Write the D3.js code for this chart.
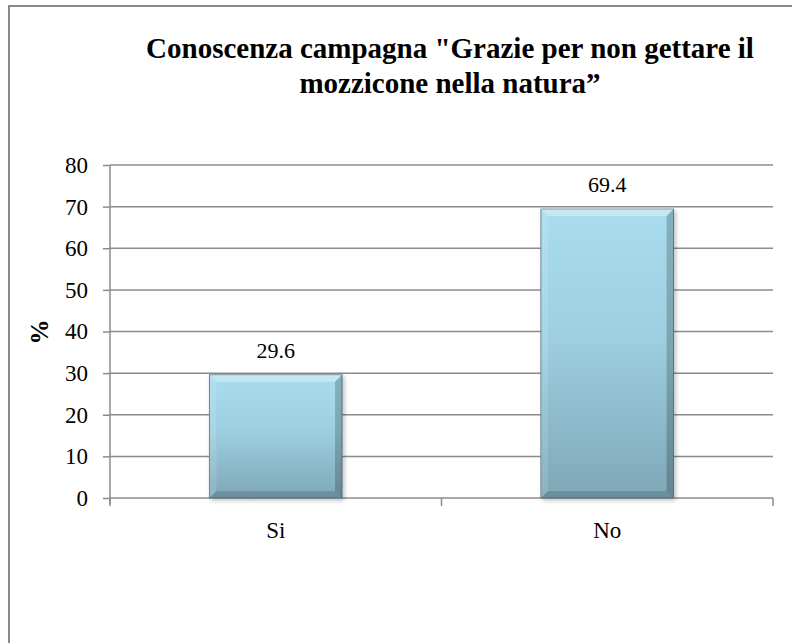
<!DOCTYPE html>
<html>
<head>
<meta charset="utf-8">
<script src="https://cdn.jsdelivr.net/npm/d3@7"></script>
<style>
  body { margin: 0; background: #fff; overflow: hidden; }
  svg text { font-family: "Liberation Serif", Tinos, "Times New Roman", Times, "DejaVu Serif", serif; }
</style>
</head>
<body>
<div id="chart"></div>
<script>
var categories = ["Si", "No"];
var values = [29.6, 69.4];
var yTicks = [0, 10, 20, 30, 40, 50, 60, 70, 80];
var titleLines = ["Conoscenza campagna \"Grazie per non gettare il", "mozzicone nella natura\u201d"];

var width = 792,
    height = 643;

var svg = d3.select("#chart").append("svg")
    .attr("width", width)
    .attr("height", height)
    .style("display", "block");

// outer frame (right and bottom edges fall outside the picture)
svg.append("rect")
    .attr("x", 9).attr("y", 6)
    .attr("width", 820).attr("height", 700)
    .attr("fill", "#fff")
    .attr("stroke", "#8a8a8a")
    .attr("stroke-width", 2);

var plot = {left: 110, right: 773, top: 165, bottom: 498};

var x = d3.scaleBand()
    .domain(categories)
    .range([plot.left, plot.right])
    .paddingInner(0.6)
    .paddingOuter(0.3);

var y = d3.scaleLinear()
    .domain([0, 80])
    .range([plot.bottom, plot.top]);

var defs = svg.append("defs");
var grad = defs.append("linearGradient")
    .attr("id", "barGrad")
    .attr("x1", 0).attr("y1", 0).attr("x2", 0).attr("y2", 1);
grad.append("stop").attr("offset", "0%").attr("stop-color", "#a9dced");
grad.append("stop").attr("offset", "45%").attr("stop-color", "#9dcfe0");
grad.append("stop").attr("offset", "100%").attr("stop-color", "#7ea7b7");

var shadow = defs.append("filter").attr("id", "shadow")
    .attr("x", "-10%").attr("y", "-10%").attr("width", "130%").attr("height", "130%");
shadow.append("feDropShadow")
    .attr("dx", 2).attr("dy", 2).attr("stdDeviation", 2)
    .attr("flood-color", "#000").attr("flood-opacity", 0.25);

// gridlines
svg.append("g")
    .selectAll("line")
    .data(yTicks)
    .enter().append("line")
    .attr("x1", plot.left).attr("x2", plot.right)
    .attr("y1", function(d) { return y(d); })
    .attr("y2", function(d) { return y(d); })
    .style("stroke", "#8c8c8c")
    .style("stroke-width", 1.5);

// y axis
var yAxis = svg.append("g")
    .attr("transform", "translate(" + plot.left + ",0)")
    .call(d3.axisLeft(y).tickValues(yTicks).tickSize(7).tickPadding(15).tickFormat(d3.format("d")));
yAxis.attr("font-family", null).attr("font-size", null);
yAxis.select(".domain").attr("stroke", "#8c8c8c").attr("stroke-width", 1.5)
    .attr("d", "M0," + y(80) + "V" + (y(0) + 6));
yAxis.selectAll(".tick line").attr("stroke", "#8c8c8c").attr("stroke-width", 1.5);
yAxis.selectAll(".tick text")
    .style("font-size", "23px")
    .attr("fill", "#000");

// x axis ticks at category boundaries
var bounds = [plot.left, (plot.left + plot.right) / 2, plot.right];
svg.append("g")
    .selectAll("line")
    .data(bounds)
    .enter().append("line")
    .attr("x1", function(d) { return d; }).attr("x2", function(d) { return d; })
    .attr("y1", plot.bottom).attr("y2", plot.bottom + 8)
    .style("stroke", "#8c8c8c")
    .style("stroke-width", 1.5);

// category labels
svg.append("g")
    .selectAll("text")
    .data(categories)
    .enter().append("text")
    .attr("x", function(d) { return x(d) + x.bandwidth() / 2; })
    .attr("y", 538)
    .attr("text-anchor", "middle")
    .style("font-size", "23px")
    .text(function(d) { return d; });

// bars
var bars = svg.append("g")
    .selectAll("g")
    .data(values)
    .enter().append("g")
    .attr("transform", function(d, i) { return "translate(" + x(categories[i]) + "," + y(d) + ")"; });

var bw = x.bandwidth();
var bev = 7;

bars.append("rect")
    .attr("width", bw)
    .attr("height", function(d) { return y(0) - y(d); })
    .attr("fill", "url(#barGrad)")
    .attr("stroke", "#5e7f8c")
    .attr("stroke-width", 1)
    .attr("filter", "url(#shadow)");

// bevel: top highlight
bars.append("path")
    .attr("d", "M0,0 H" + bw + " L" + (bw - bev) + "," + bev + " H" + bev + " Z")
    .attr("fill", "#ffffff").attr("opacity", 0.35);
// bevel: left
bars.append("path")
    .attr("d", function(d) {
        var h = y(0) - y(d);
        return "M0,0 L" + bev + "," + bev + " V" + (h - bev) + " L0," + h + " Z";
    })
    .attr("fill", "#ffffff").attr("opacity", 0.12);
// bevel: right
bars.append("path")
    .attr("d", function(d) {
        var h = y(0) - y(d);
        return "M" + bw + ",0 L" + (bw - bev) + "," + bev + " V" + (h - bev) + " L" + bw + "," + h + " Z";
    })
    .attr("fill", "#000000").attr("opacity", 0.2);
// bevel: bottom
bars.append("path")
    .attr("d", function(d) {
        var h = y(0) - y(d);
        return "M0," + h + " L" + bev + "," + (h - bev) + " H" + (bw - bev) + " L" + bw + "," + h + " Z";
    })
    .attr("fill", "#000000").attr("opacity", 0.15);

// value labels
svg.append("g")
    .selectAll("text")
    .data(values)
    .enter().append("text")
    .attr("x", function(d, i) { return x(categories[i]) + bw / 2; })
    .attr("y", function(d) { return y(d) - 17; })
    .attr("text-anchor", "middle")
    .style("font-size", "22px")
    .text(function(d) { return d3.format(".1f")(d); });

// y axis title
svg.append("text")
    .attr("transform", "translate(48,332) rotate(-90)")
    .attr("text-anchor", "middle")
    .style("font-size", "25px")
    .style("font-weight", "bold")
    .text("%");

// chart title
svg.append("g")
    .selectAll("text")
    .data(titleLines)
    .enter().append("text")
    .attr("x", 450)
    .attr("y", function(d, i) { return 58 + i * 35; })
    .attr("text-anchor", "middle")
    .style("font-size", "29px")
    .style("font-weight", "bold")
    .text(function(d) { return d; });
</script>
</body>
</html>
